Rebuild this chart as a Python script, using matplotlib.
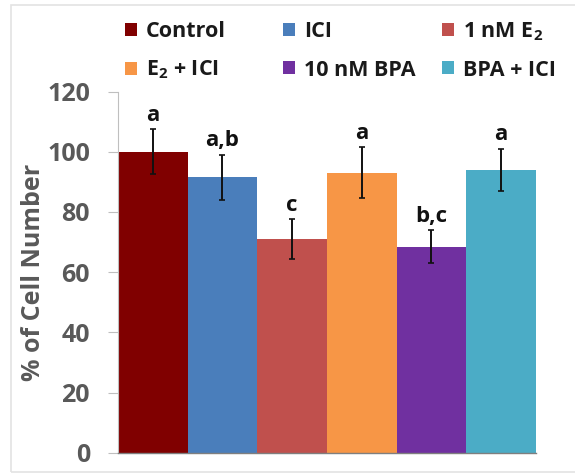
import matplotlib
matplotlib.use("Agg")
import matplotlib.pyplot as plt
from matplotlib.patches import Patch, Rectangle

plt.rcParams["font.family"] = ["Open Sans", "DejaVu Sans"]
plt.rcParams["mathtext.default"] = "regular"

# Treatment groups, mean % cell number, error and significance letters
groups = ["Control", "ICI", "1 nM E$_2$", "E$_2$ + ICI", "10 nM BPA", "BPA + ICI"]
means = [100, 91.5, 71, 93, 68.5, 94]
errors = [7.5, 7.5, 6.5, 8.5, 5.5, 7]
letters = ["a", "a,b", "c", "a", "b,c", "a"]
colors = ["#800000", "#4a7ebb", "#c0504d", "#f79646", "#7030a0", "#4bacc6"]
yticks = [0, 20, 40, 60, 80, 100, 120]

W, H = 575, 474
fig = plt.figure(figsize=(W / 100, H / 100), dpi=100)
ax = fig.add_axes([118 / W, 1 - 452.7 / H, (536 - 118) / W, (452.7 - 91.5) / H])

x = list(range(len(groups)))
ax.bar(x, means, width=1.0, color=colors, edgecolor="none", zorder=2)
ax.errorbar(x, means, yerr=errors, fmt="none", ecolor="#111111",
            elinewidth=1.4, capsize=2.5, capthick=1.2, zorder=3)

for xi, m, e, lab in zip(x, means, errors, letters):
    ax.annotate(lab, xy=(xi, m + e), xytext=(0, 6), textcoords="offset points",
                ha="center", va="baseline", fontsize=16, fontweight="bold",
                color="#111111")

ax.set_xlim(-0.5, len(groups) - 0.5)
ax.set_ylim(0, 120)
ax.set_yticks(yticks)
ax.set_xticks([])
ax.tick_params(axis="y", length=7.2, width=0.8, color="#bfbfbf", pad=13,
               labelsize=18, labelcolor="#595959")
for lbl in ax.get_yticklabels():
    lbl.set_fontweight("bold")

for side in ("top", "right"):
    ax.spines[side].set_visible(False)
ax.spines["left"].set_color("#bfbfbf")
ax.spines["left"].set_linewidth(0.8)
ax.spines["bottom"].set_color("#7f7f7f")
ax.spines["bottom"].set_linewidth(1.0)
ax.spines["bottom"].set_zorder(4)

ax.set_ylabel("% of Cell Number", fontsize=18, fontweight="bold", color="#595959")
ax.yaxis.set_label_coords(-0.203, 0.5)
ax.yaxis.label.set_va("center")

# Legend: three columns by two rows, one entry per cell
handles = [Patch(facecolor=c, edgecolor="none", label=g) for c, g in zip(colors, groups)]
col_x = [125, 283, 442]
row_y = [31.7, 70]
for i, h in enumerate(handles):
    cx = col_x[i % 3]
    cy = row_y[i // 3]
    fig.legend(handles=[h], loc="center left",
               bbox_to_anchor=(cx / W, 1 - cy / H), frameon=False,
               borderpad=0, borderaxespad=0, handlelength=0.55,
               handleheight=0.55, handletextpad=0.42,
               prop={"size": 15.5, "weight": "bold"}, labelcolor="#1a1a1a")

# Light frame around the chart area
fig.patches.append(Rectangle((11 / W, 2 / H), 1.0, 1 - 7 / H, transform=fig.transFigure,
                             fill=False, edgecolor="#e3e3e3", linewidth=1.2))

fig.savefig("out.png", dpi=100)
